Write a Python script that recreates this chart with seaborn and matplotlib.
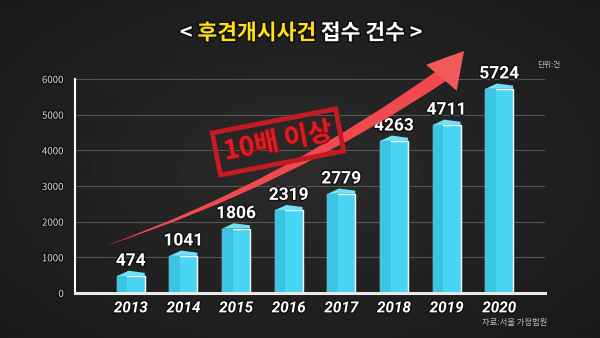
import numpy as np
import pandas as pd
import matplotlib
matplotlib.use("Agg")
import matplotlib.pyplot as plt
import matplotlib.patheffects as pe
from matplotlib.patches import Rectangle, Polygon, FancyArrowPatch
import seaborn as sns

# ---- data ----
years = ["2013", "2014", "2015", "2016", "2017", "2018", "2019", "2020"]
cases = [474, 1041, 1806, 2319, 2779, 4263, 4711, 5724]
yticks = [0, 1000, 2000, 3000, 4000, 5000, 6000]
title_parts = ["< ", "후견개시사건", " 접수 건수 >"]
unit_text = "단위:건"
source_text = "자료:서울 가정법원"
stamp_text = "10배 이상"

sns.set_theme(style="dark")
plt.rcParams["font.family"] = ["Noto Sans CJK KR", "DejaVu Sans"]

W, H = 600, 338
fig = plt.figure(figsize=(6, 3.38), dpi=100)

# background with soft vignette
bg = fig.add_axes([0, 0, 1, 1], zorder=-10)
yy, xx = np.mgrid[0:1:200j, 0:1:300j]
r = np.sqrt(((xx - 0.5) / 0.75) ** 2 + ((yy - 0.5) / 0.8) ** 2)
shade = 0.17 - 0.08 * np.clip(r, 0, 1.2)
bg.imshow(shade, cmap="gray", vmin=0, vmax=1, aspect="auto", extent=[0, 1, 0, 1])
bg.axis("off")

ax = fig.add_axes([75 / W, 1 - 293 / H, (545 - 75) / W, (293 - 79) / H])
ax.set_facecolor("none")

df = pd.DataFrame({"year": years, "cases": cases})
front = "#47d5f3"
sns.barplot(data=df, x="year", y="cases", color=front, width=0.53,
            saturation=1, ax=ax, zorder=3)

ax.set_xlim(-1.06, 7.87)
ax.set_ylim(0, 6000)
ax.set_yticks(yticks)
ax.set_yticklabels([str(v) for v in yticks])
ax.grid(False)
for v in yticks[1:]:
    ax.axhline(v, color="#555555", lw=0.8, zorder=1)

shadow = [pe.withStroke(linewidth=2, foreground="#111111")]
ax.tick_params(axis="y", length=0, pad=8, labelsize=7, labelcolor="#d8d8d8")
ax.tick_params(axis="x", length=0, pad=6)
for lab in ax.get_yticklabels():
    lab.set_path_effects(shadow)
for lab in ax.get_xticklabels():
    lab.set_fontsize(11)
    lab.set_fontweight("bold")
    lab.set_fontstyle("italic")
    lab.set_color("white")
    lab.set_family(["Roboto", "DejaVu Sans"])
    lab.set_path_effects(shadow)
ax.set_xlabel("")
ax.set_ylabel("")
for s in ["top", "right"]:
    ax.spines[s].set_visible(False)
ax.spines["left"].set_color("white")
ax.spines["left"].set_linewidth(1.5)
ax.spines["bottom"].set_color("#e8e8e8")
ax.spines["bottom"].set_linewidth(2.2)
ax.spines["bottom"].set_zorder(5)

# 3D-ish bar decoration
dh = 150
for p, v in zip(ax.patches, cases):
    x0, w, h = p.get_x(), p.get_width(), p.get_height()
    ax.add_patch(Rectangle((x0, 0), w * 0.38, h, color="#3cc4e3", zorder=4, lw=0))
    ax.add_patch(Polygon([(x0, h), (x0 + 0.42 * w, h + dh), (x0 + w, h + 0.6 * dh), (x0 + w, h)],
                         closed=True, color="#6fe2f8", zorder=4, lw=0))
    ax.annotate(str(v), (x0 + w / 2, h + dh), xytext=(0, 1.5), textcoords="offset points",
                ha="center", va="bottom", fontsize=12.5, fontweight="bold", color="white",
                family=["Roboto", "DejaVu Sans"], path_effects=shadow, zorder=6)

# title (multi-colour)
renderer = fig.canvas.get_renderer()
colors = ["white", "#ffe014", "white"]
tstyle = dict(fontsize=15.5, fontweight="bold", va="center",
              path_effects=[pe.withStroke(linewidth=2.5, foreground="#111111")])
texts = []
for part, c in zip(title_parts, colors):
    t = fig.text(0, 1 - 33 / H, part, color=c, ha="left", **tstyle)
    texts.append(t)
widths = [t.get_window_extent(renderer).width for t in texts]
x = 301 - sum(widths) / 2
for t, wd in zip(texts, widths):
    t.set_x(x / W)
    x += wd

fig.text(560 / W, 1 - 65 / H, unit_text, fontsize=5.5, color="#bbbbbb", ha="right", va="center")
fig.text(547 / W, 1 - 323 / H, source_text, fontsize=6, color="#bbbbbb", ha="right", va="center")

# red arrow (decoration)
def fp(px, py):
    return (px / W, 1 - py / H)

body = FancyArrowPatch(fp(447, 72), fp(105, 246), transform=fig.transFigure,
                       arrowstyle="wedge,tail_width=0.5,shrink_factor=0.5",
                       connectionstyle="arc3,rad=-0.07", mutation_scale=20,
                       color="#f04a4f", lw=0, zorder=8, shrinkA=0, shrinkB=0)
fig.patches.append(body)
head = FancyArrowPatch(fp(442, 77), fp(464, 51), transform=fig.transFigure,
                       arrowstyle="simple,head_length=1.4,head_width=1.6,tail_width=0.3",
                       mutation_scale=18, color="#f25a5a", lw=0, zorder=8,
                       shrinkA=0, shrinkB=0)
fig.patches.append(head)

# stamp
fig.text(278 / W, 1 - 142 / H, stamp_text, fontsize=19, fontweight="bold", color="#d81e26",
         rotation=11, ha="center", va="center", zorder=9,
         path_effects=[pe.withStroke(linewidth=1.5, foreground="#7a0f12")],
         bbox=dict(boxstyle="square,pad=0.3", facecolor="none", edgecolor="#c41a22", lw=3.5))

fig.savefig("out.png", dpi=100)
